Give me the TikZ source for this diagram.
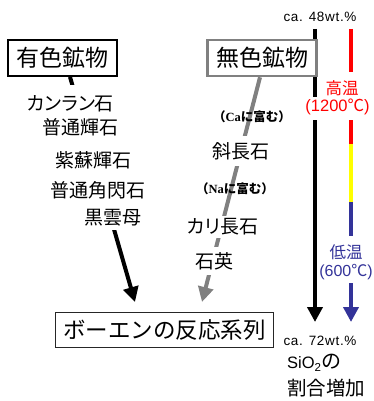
\documentclass[tikz,border=0pt]{standalone}
\usepackage{fontspec}
\setmainfont{Liberation Sans}
\newfontfamily\jp{Noto Sans CJK JP}
\newfontfamily\jpp{Noto Sans CJK JP}[RawFeature=+palt]
\newfontfamily\serb{Liberation Serif}
\newfontfamily\lsans{Liberation Sans}[LetterSpace=5]
\usetikzlibrary{arrows.meta,backgrounds}
\definecolor{mgray}{RGB}{128,128,128}
\definecolor{tblue}{RGB}{51,51,153}
\definecolor{tred}{RGB}{255,0,0}
\definecolor{tyel}{RGB}{255,255,0}
\newcommand{\fsz}[1]{\fontsize{#1}{#1}\selectfont}
\begin{document}
\begin{tikzpicture}[x=1pt,y=-1pt,
  catbox/.style={fill=white, minimum width=109pt, minimum height=36pt, inner sep=0pt, font=\jp\fsz{23}},
  lmin/.style={anchor=west, inner sep=0pt, font=\jp\fsz{19}},
  rmin/.style={anchor=west, fill=white, inner xsep=1pt, font=\jp\fsz{19}},
  small/.style={anchor=west, inner sep=0pt, font=\jp\bfseries\fsz{12.5}},
  bar/.style={line width=4pt},
  tip/.style={-{Triangle[width=15pt,length=15pt]}},
  wt/.style={inner sep=0pt, font=\lsans\fsz{13.5}},
  temp/.style={inner sep=0pt, font=\fsz{16}}]
\useasboundingbox (0,0) rectangle (374,401);

% coordinates for free ends
\coordinate (tipA) at (135,302);
\coordinate (tipB) at (202,302);
\coordinate (k1) at (315,29);
\coordinate (k2) at (315,97);
\coordinate (k3) at (315,120);
\coordinate (k4) at (315,322);
\coordinate (r1) at (351,29);
\coordinate (r2) at (351,72);
\coordinate (r3) at (351,120);
\coordinate (y1) at (351,144);
\coordinate (b1) at (351,202);
\coordinate (b2) at (351,236);
\coordinate (b3) at (351,283);
\coordinate (b4) at (351,322);

% white cover behind the left list
\fill[white] (25,85) rectangle (150,230);

% category boxes
\node[catbox, draw=black, line width=1.8pt] (yushoku) at (62.5,58) {有色鉱物};
\node[catbox, draw=mgray, line width=2.6pt] (mushoku) at (262,58) {無色鉱物};
\node[draw=black!85, line width=0.9pt, fill=white, minimum width=218pt, minimum height=35pt, font=\jp\fsz{22.5}] (bowen) at (164.5,330) {ボーエンの反応系列};

% left list
\node[lmin] (kanran) at (27,104) {\jpp カンラン石};
\node[lmin] (futsuki) at (42,127) {普通輝石};
\node[lmin] (shiso) at (55,160) {紫蘇輝石};
\node[lmin] (kakusen) at (50,190) {普通角閃石};
\node[lmin] (kurounmo) at (84,218) {黒雲母};

% right list
\node[small] (ca) at (213,117) {（{\serb\bfseries Ca}に富む）};
\node[rmin, inner ysep=6.5pt] (shacho) at (211,151) {斜長石};
\node[small] (na) at (196,189) {（{\serb\bfseries Na}に富む）};
\node[rmin, inner ysep=3pt] (karicho) at (186,227) {\jpp カリ長石};
\node[rmin, inner ysep=5.5pt] (sekiei) at (194,261) {石英};

% right scale labels
\node[wt] (w48) at (320,17) {ca. 48wt.\%};
\node[wt] (w72) at (320,341) {ca. 72wt.\%};
\node[temp, text=tred, font=\jp\fsz{16.5}] (kouon) at (342,88) {高温};
\node[temp, text=tred, font=\fsz{16.5}] (t1200) at (337.5,107) {(1200{\jp ℃})};
\node[temp, text=tblue, font=\jp\fsz{16.5}] (teion) at (346,252) {低温};
\node[temp, text=tblue] (t600) at (346,272) {(600{\jp ℃})};
\node[anchor=west, inner sep=0pt, font=\fsz{16.5}] (sio) at (287,363) {SiO\textsubscript{2}{\jp\fsz{20}の}};
\node[anchor=west, inner sep=0pt, font=\jp\fsz{19.5}] (wariai) at (287,388) {割合増加};

\begin{scope}[on background layer]
  \draw[bar, tip] ([xshift=7.5pt]yushoku.south) -- (tipA);
  \draw[bar, tip, mgray] ([xshift=-2pt]mushoku.south) -- (tipB);
  \draw[bar] (k1) -- (k2);
  \draw[bar, tip] (k3) -- (k4);
  \draw[bar, tred] (r1) -- (r2);
  \draw[bar, tred] (r3) -- (y1);
  \draw[bar, tyel] (y1) -- (b1);
  \draw[bar, tblue] (b1) -- (b2);
  \draw[bar, tblue, tip] (b3) -- (b4);
\end{scope}
\end{tikzpicture}
\end{document}
